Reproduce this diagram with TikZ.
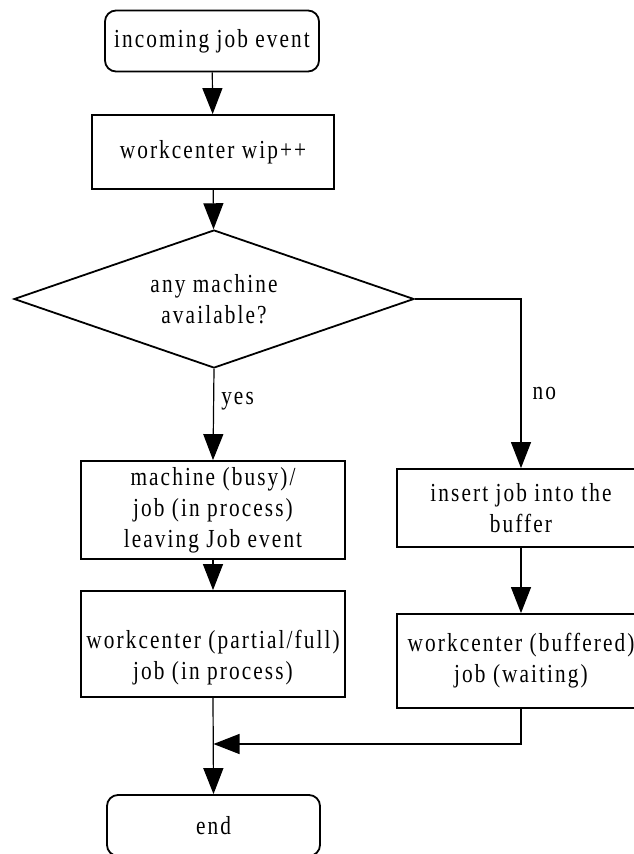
\documentclass[tikz,border=0pt]{standalone}
\usepackage{fontspec}
\setmainfont{Liberation Serif}[FakeStretch=0.82, LetterSpace=8]
\usetikzlibrary{shapes.geometric,arrows.meta}
\begin{document}
\begin{tikzpicture}[x=1pt,y=-1pt,
  every node/.style={font=\fontsize{26pt}{31pt}\selectfont},
  procbox/.style={draw, line width=1.8pt, rectangle, align=center, inner sep=0pt},
  termbox/.style={procbox, rounded corners=11pt},
  decision/.style={draw, line width=1.8pt, diamond, align=center, inner sep=0pt,
                   minimum width=400pt, minimum height=138pt, aspect=2.9},
  flow/.style={line width=1.2pt, -{Triangle[length=26pt,width=20pt]}},
  boxtext/.style={align=center, inner sep=0pt},
  lbl/.style={inner sep=0pt, anchor=west}]
  \useasboundingbox (0,0) rectangle (634,854);

  % main column
  \node[termbox, minimum width=214pt, minimum height=61pt] (start) at (212,41) {incoming job event};
  \node[procbox, minimum width=242pt, minimum height=74pt] (wip) at (213,152) {workcenter wip++};
  \node[decision] (avail) at (214,299) {any machine\\available?};
  \node[procbox, minimum width=264pt, minimum height=98pt] (busy) at (213,510)
       {machine (busy)/\\job (in process)\\leaving Job event};
  \node[procbox, minimum width=264pt, minimum height=106pt] (proc) at (213,644) {};
  \node[boxtext] (proctext) at (213,658) {workcenter (partial/full)\\job (in process)};
  \node[termbox, minimum width=213pt, minimum height=61pt] (finish) at (213.5,825.5) {end};

  % buffer branch
  \node[procbox, minimum width=248pt, minimum height=78pt] (insert) at (521,508)
       {insert job into the\\buffer};
  \node[procbox, minimum width=248pt, minimum height=94pt] (wait) at (521,661)
       {workcenter (buffered)\\job (waiting)};

  \coordinate (merge) at (213.5,744);

  % connectors
  \draw[flow] (start) -- (wip);
  \draw[flow] (wip) -- (avail);
  \draw[flow] (avail.south) -- node[lbl, pos=0.35, xshift=7pt] (yeslbl) {yes} (busy.north);
  \draw[flow] (avail.east) -| node[lbl, pos=0.78, xshift=11pt] (nolbl) {no} (insert.north);
  \draw[flow] (busy) -- (proc);
  \draw[flow] (insert) -- (wait);
  \draw[flow] (proc.south) -- (finish.north);
  \draw[flow] (wait.south) |- (merge);
\end{tikzpicture}
\end{document}
